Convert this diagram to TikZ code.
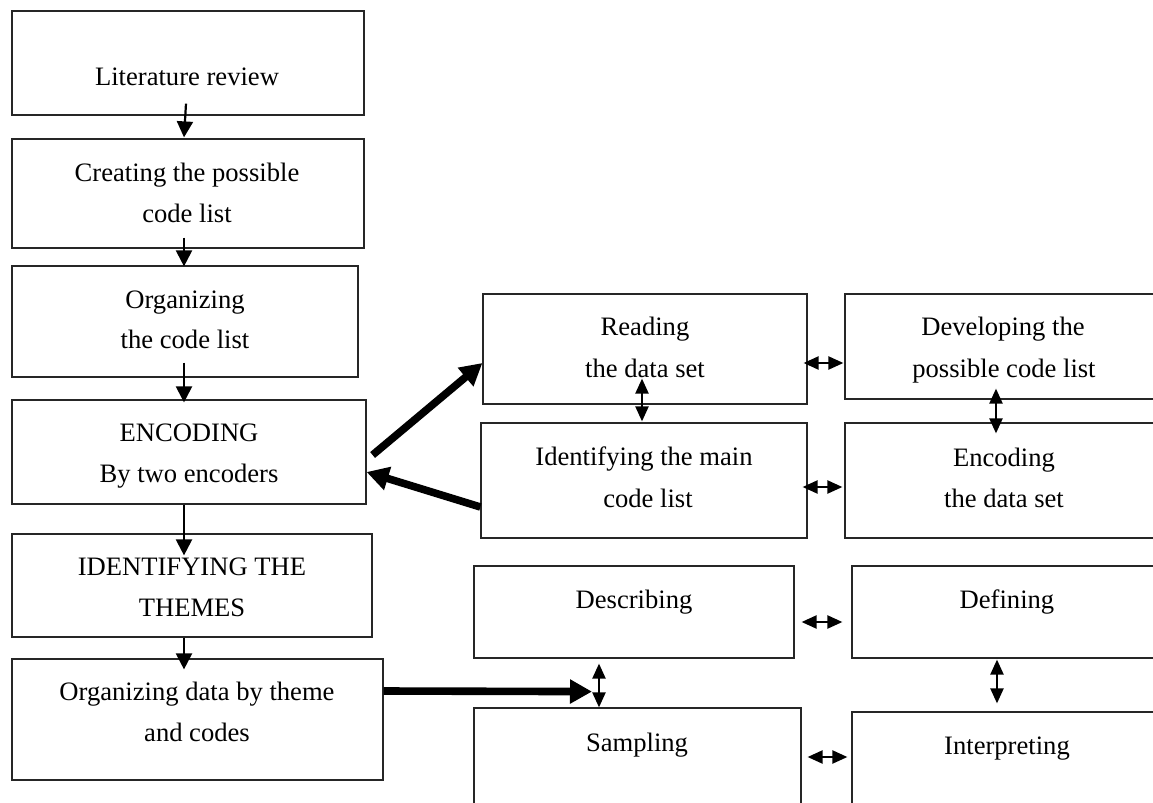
\documentclass[tikz,border=0pt]{standalone}
\usepackage{fontspec}
\setmainfont{Liberation Serif}
\usetikzlibrary{arrows.meta,fit,calc}
\begin{document}
\begin{tikzpicture}[x=0.5pt,y=-0.5pt,
  box/.style={draw=black!85, line width=0.6pt, inner sep=0pt},
  txt/.style={anchor=base, inner sep=0pt, font=\fontsize{13.3pt}{16pt}\selectfont},
  thinarr/.style={line width=1.1pt, -{Triangle[length=8pt,width=8pt]}},
  dblarr/.style={line width=1.1pt, {Triangle[length=7.5pt,width=6.5pt]}-{Triangle[length=7.5pt,width=6.5pt]}},
  thickarr/.style={line width=3.8pt, -{Triangle[length=11pt,width=11.5pt]}}]
\useasboundingbox (0,0) rectangle (1153,803);
\clip (0,0) rectangle (1153,803);
% left column
\node[box, fit={(12,11)(364,115)}] (b1) {};
\node[box, fit={(12,139)(364,248)}] (b2) {};
\node[box, fit={(12,266)(358,377)}] (b3) {};
\node[box, fit={(12,400)(366,504)}] (b4) {};
\node[box, fit={(12,534)(372,637)}] (b5) {};
\node[box, fit={(12,659)(383,780)}] (b6) {};
% upper right group
\node[box, fit={(483,294)(807,404)}] (r1) {};
\node[box, fit={(481,423)(807,538)}] (r2) {};
\node[box, fit={(845,294)(1200,399)}] (r3) {};
\node[box, fit={(845,423)(1200,538)}] (r4) {};
% lower right group
\node[box, fit={(474,566)(794,658)}] (d1) {};
\node[box, fit={(474,708)(801,850)}] (d2) {};
\node[box, fit={(852,566)(1200,658)}] (d3) {};
\node[box, fit={(852,712)(1200,850)}] (d4) {};
% texts
\node[txt] (t1) at (187,85) {Literature review};
\node[txt] (t2a) at (187,181) {Creating the possible};
\node[txt] (t2b) at (187,222) {code list};
\node[txt] (t3a) at (185,308) {Organizing};
\node[txt] (t3b) at (185,348) {the code list};
\node[txt] (t4a) at (189,441) {ENCODING};
\node[txt] (t4b) at (189,482) {By two encoders};
\node[txt] (t5a) at (192,575) {IDENTIFYING THE};
\node[txt] (t5b) at (192,616) {THEMES};
\node[txt] (t6a) at (197,700) {Organizing data by theme};
\node[txt] (t6b) at (197,741) {and codes};
\node[txt] (tr1a) at (645,335) {Reading};
\node[txt] (tr1b) at (645,377) {the data set};
\node[txt] (tr2a) at (644,465) {Identifying the main};
\node[txt] (tr2b) at (648,507) {code list};
\node[txt] (tr3a) at (1003,335) {Developing the};
\node[txt] (tr3b) at (1004,377) {possible code list};
\node[txt] (tr4a) at (1004,466) {Encoding};
\node[txt] (tr4b) at (1004,507) {the data set};
\node[txt] (td1) at (634,608) {Describing};
\node[txt] (td2) at (637,751) {Sampling};
\node[txt] (td3) at (1007,608) {Defining};
\node[txt] (td4) at (1007,754) {Interpreting};
% left column arrows
\draw[thinarr] ($(b1.south)+(-2,-12)$) -- ($(b2.north)+(-4,-1)$);
\draw[thinarr] ($(b2.south)+(-4,-11)$) -- ($(b3.north)+(-1,1)$);
\draw[thinarr] ($(b3.south)+(-1,-15)$) -- ($(b4.north)+(-5,3)$);
\draw[thinarr] ($(b4.south)+(-5,0)$) -- ($(b5.north)+(-8,22)$);
\draw[thinarr] ($(b5.south)+(-8,0)$) -- ($(b6.north)+(-13.5,11)$);
% thick arrows
\draw[thickarr] ($(b4.east)+(6,3)$) -- ($(r1.west)+(0,14)$);
\draw[thickarr] ($(r2.west)+(0,26.5)$) -- ($(b4.east)+(0,20)$);
\coordinate (th) at ($(d1.south)+(-42,33)$);
\draw[thickarr] ($(b6.east)+(0,-28.5)$) -- (th);
% double arrows, upper group
\draw[dblarr] ($(r1.east)+(-4,14)$) -- ($(r3.west)+(-1,16.5)$);
\draw[dblarr] ($(r2.east)+(-5,6.5)$) -- ($(r4.west)+(-2,6.5)$);
\draw[dblarr] ($(r1.south)+(-3,-26)$) -- ($(r2.north)+(-2,-1)$);
\draw[dblarr] ($(r3.south)+(-26.5,-11)$) -- ($(r4.north)+(-26.5,11)$);
% double arrows, lower group
\draw[dblarr] ($(d1.east)+(7,10)$) -- ($(d3.west)+(-9,10)$);
\draw[dblarr] ($(d2.east)+(6,-22)$) -- ($(d4.west)+(-4,-24)$);
\draw[dblarr] ($(d1.south)+(-35,5)$) -- ($(d2.north)+(-38.5,0)$);
\draw[dblarr] ($(d3.south)+(-29,1)$) -- ($(d4.north)+(-29,-8)$);
\end{tikzpicture}
\end{document}
